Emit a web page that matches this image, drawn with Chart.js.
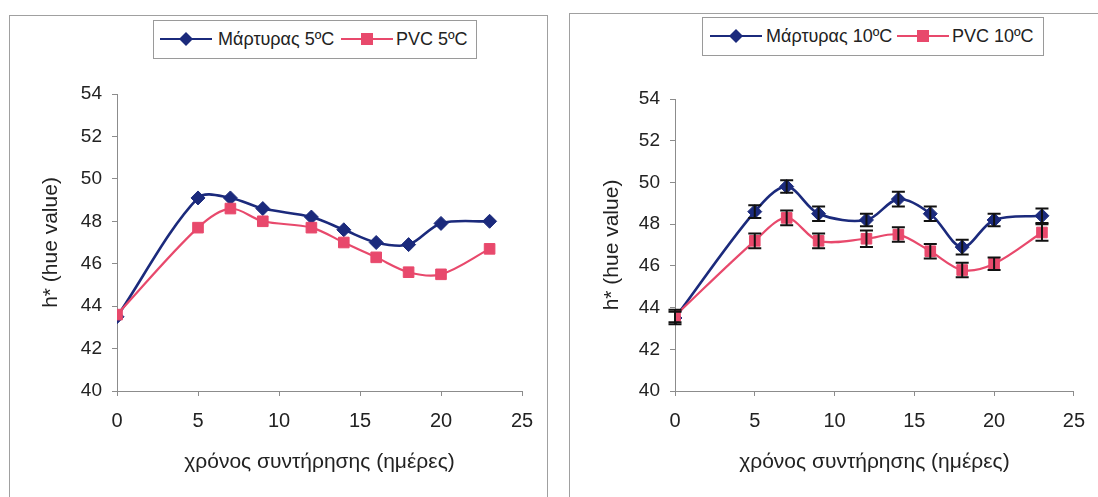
<!DOCTYPE html>
<html>
<head>
<meta charset="utf-8">
<script src="https://cdn.jsdelivr.net/npm/chart.js@4/dist/chart.umd.min.js"></script>
<style>
  html, body { margin: 0; padding: 0; background: #fff; }
  body { width: 1098px; height: 497px; position: relative; overflow: hidden; font-family: "Liberation Sans", Arial, sans-serif; }
  .panel { position: absolute; border: 1px solid #a0a0a0; box-sizing: border-box; background: #fff; }
  .cv { position: absolute; }
  .legend { position: absolute; border: 1px solid #9a9a9a; box-sizing: border-box; background: #fff; }
  .legend svg { position: absolute; }
  .legend span { position: absolute; font-size: 18px; color: #222; white-space: nowrap; line-height: 20px; }
</style>
</head>
<body>
<div class="panel" style="left:9px;top:15px;width:539px;height:500px;"></div>
<div class="panel" style="left:569px;top:13px;width:540px;height:500px;"></div>
<canvas id="c1" class="cv" style="left:10px;top:16px;" width="537" height="481"></canvas>
<canvas id="c2" class="cv" style="left:570px;top:14px;" width="528" height="483"></canvas>

<div class="legend" id="lg1" style="left:153px;top:20px;width:324px;height:39px;"></div>
<div class="legend" id="lg2" style="left:702px;top:17px;width:342px;height:39px;"></div>

<script>
// ---- data ----
const days = [0, 5, 7, 9, 12, 14, 16, 18, 20, 23];
const control5 = [43.5, 49.1, 49.1, 48.6, 48.2, 47.6, 47.0, 46.9, 47.9, 48.0];
const pvc5 = [43.6, 47.7, 48.6, 48.0, 47.7, 47.0, 46.3, 45.6, 45.5, 46.7];
const control10 = [43.5, 48.6, 49.8, 48.5, 48.2, 49.2, 48.5, 46.9, 48.2, 48.4];
const pvc10 = [43.6, 47.2, 48.3, 47.2, 47.3, 47.5, 46.7, 45.8, 46.1, 47.6];
const control10Err = [0.3, 0.3, 0.3, 0.35, 0.3, 0.35, 0.35, 0.35, 0.3, 0.35];
const pvc10Err = [0.3, 0.35, 0.35, 0.35, 0.4, 0.35, 0.35, 0.35, 0.3, 0.4];
const yTicks = [40, 42, 44, 46, 48, 50, 52, 54];
const xTicks = [0, 5, 10, 15, 20, 25];
const labels5 = ['Μάρτυρας 5ºC', 'PVC 5ºC'];
const labels10 = ['Μάρτυρας 10ºC', 'PVC 10ºC'];
const xTitle = 'χρόνος συντήρησης (ημέρες)';
const yTitle = 'h* (hue value)';

const BLUE = '#1b2a7c';
const RED = '#e8496c';
const AXIS = '#8c8c8c';
const FONT = '"Liberation Sans", Arial, sans-serif';

const pts = (vals) => days.map((d, i) => ({ x: d, y: vals[i] }));

const errorBars = {
  id: 'errorBars',
  afterDatasetsDraw(chart) {
    const ctx = chart.ctx;
    const ys = chart.scales.y;
    chart.data.datasets.forEach((ds, di) => {
      if (!ds.errors) return;
      const meta = chart.getDatasetMeta(di);
      ctx.save();
      ctx.strokeStyle = '#111';
      ctx.lineWidth = 2;
      meta.data.forEach((el, i) => {
        const v = ds.data[i].y, e = ds.errors[i];
        const x = el.x;
        const y1 = ys.getPixelForValue(v + e), y2 = ys.getPixelForValue(v - e);
        ctx.beginPath();
        ctx.moveTo(x, y1); ctx.lineTo(x, y2);
        ctx.moveTo(x - 6.5, y1); ctx.lineTo(x + 6.5, y1);
        ctx.moveTo(x - 6.5, y2); ctx.lineTo(x + 6.5, y2);
        ctx.stroke();
      });
      ctx.restore();
    });
  }
};

function makeChart(id, c, p, lbl, cErr, pErr, geo) {
  const dsC = {
    label: lbl[0], data: pts(c), borderColor: BLUE, backgroundColor: BLUE,
    borderWidth: 2.6, pointStyle: 'rectRot', pointRadius: 7, pointHoverRadius: 7,
    pointBorderWidth: 1,
    tension: 0.33, order: 1
  };
  const dsP = {
    label: lbl[1], data: pts(p), borderColor: RED, backgroundColor: RED,
    borderWidth: 2.2, pointStyle: 'rect', pointRadius: 7.5, pointHoverRadius: 7.5,
    pointBorderWidth: 1,
    tension: 0.33, order: 0
  };
  if (cErr) dsC.errors = cErr;
  if (pErr) dsP.errors = pErr;
  return new Chart(document.getElementById(id), {
    type: 'line',
    data: { datasets: [dsC, dsP] },
    plugins: [errorBars],
    options: {
      responsive: false, animation: false,
      layout: { padding: { left: 0, right: geo.right, top: geo.top, bottom: 0 } },
      plugins: { legend: { display: false }, tooltip: { enabled: false } },
      scales: {
        x: {
          type: 'linear', min: 0, max: 25,
          afterBuildTicks: (s) => { s.ticks = xTicks.map(v => ({ value: v })); },
          afterFit: (s) => { s.height = geo.xh; },
          grid: { display: true, drawOnChartArea: false, drawTicks: true, tickLength: 5, color: AXIS, lineWidth: 1 },
          border: { display: true, color: AXIS, width: 1 },
          ticks: { color: '#222', padding: 13, font: { family: FONT, size: 20 }, maxRotation: 0 },
          title: { display: true, text: xTitle, color: '#222', font: { family: FONT, size: 21 }, padding: { top: 0, bottom: 22 } }
        },
        y: {
          min: 40, max: 54,
          afterBuildTicks: (s) => { s.ticks = yTicks.map(v => ({ value: v })); },
          afterFit: (s) => { s.width = geo.yw; },
          grid: { display: true, drawOnChartArea: false, drawTicks: true, tickLength: 5, color: AXIS, lineWidth: 1 },
          border: { display: true, color: AXIS, width: 1 },
          ticks: { color: '#222', padding: 10, font: { family: FONT, size: 19 } },
          title: { display: true, text: yTitle, color: '#222', font: { family: FONT, size: 21 }, padding: { top: geo.yt, bottom: 0 } }
        }
      }
    }
  });
}

makeChart('c1', control5, pvc5, labels5, null, null, { right: 25, top: 78, xh: 106, yw: 107, yt: 29 });
makeChart('c2', control10, pvc10, labels10, control10Err, pvc10Err, { right: 23, top: 85, xh: 106, yw: 105, yt: 30 });

// ---- legends (HTML) ----
function symbol(kind, color) {
  const m = kind === 'diamond'
    ? `<polygon points="26,3 33,10 26,17 19,10" fill="${color}"/>`
    : `<rect x="20" y="4" width="12" height="12" fill="${color}"/>`;
  return `<svg width="52" height="20" viewBox="0 0 52 20"><line x1="0" y1="10" x2="52" y2="10" stroke="${color}" stroke-width="2"/>${m}</svg>`;
}
function legend(id, lbl, pos) {
  const el = document.getElementById(id);
  el.innerHTML =
    `<div style="position:absolute;left:${pos[0]}px;top:8px;">${symbol('diamond', BLUE)}</div>` +
    `<span style="left:${pos[1]}px;top:8px;">${lbl[0]}</span>` +
    `<div style="position:absolute;left:${pos[2]}px;top:8px;">${symbol('square', RED)}</div>` +
    `<span style="left:${pos[3]}px;top:8px;">${lbl[1]}</span>`;
}
legend('lg1', labels5, [6, 64, 187, 242]);
legend('lg2', labels10, [7, 63, 194, 249]);
</script>
</body>
</html>
